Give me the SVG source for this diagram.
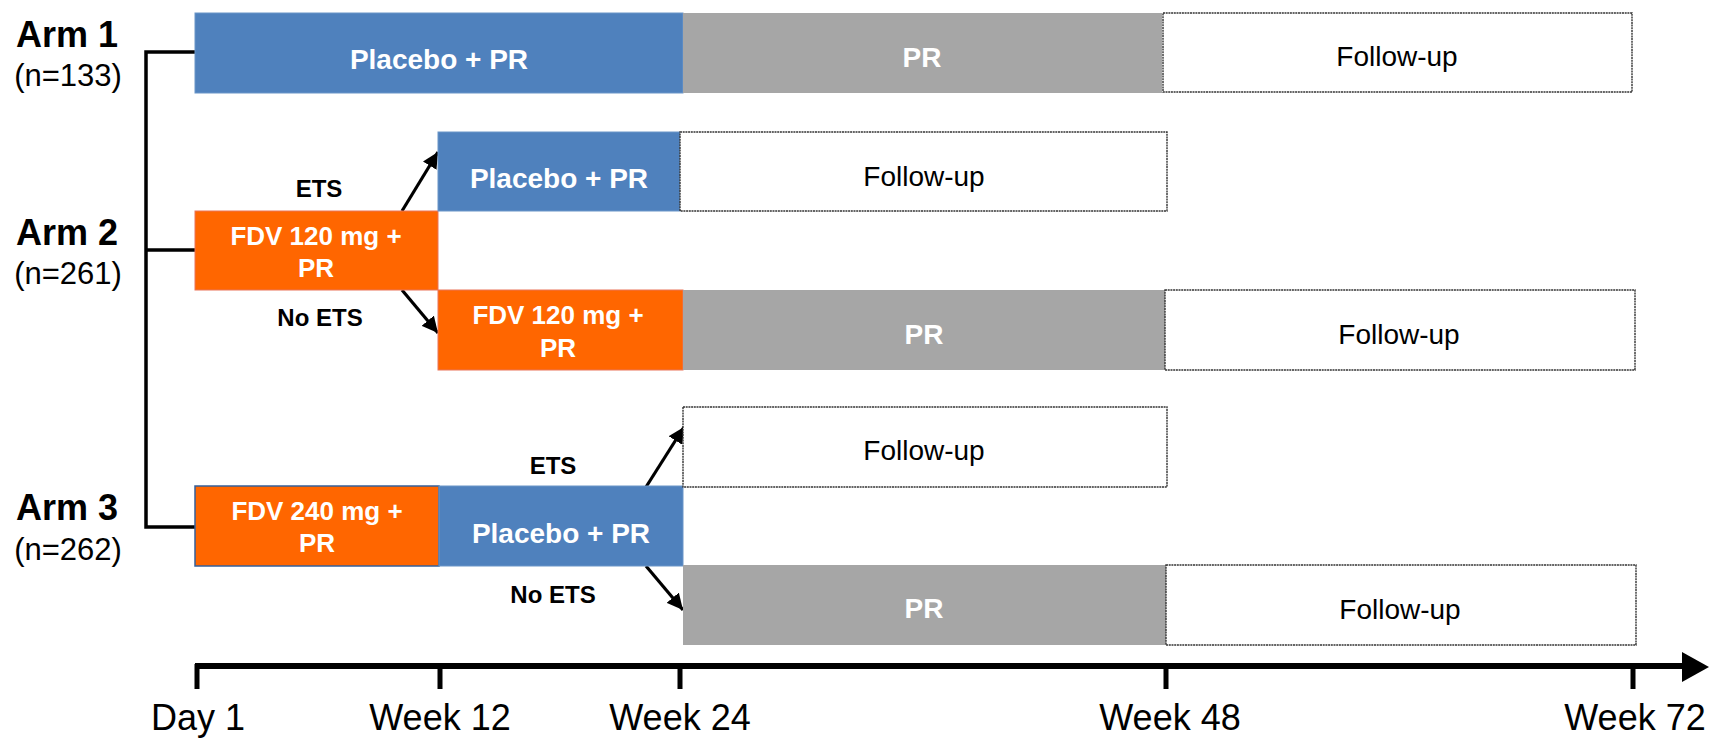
<svg xmlns="http://www.w3.org/2000/svg" width="1710" height="738" viewBox="0 0 1710 738">
<defs>
<style>
.blue{fill:#4F81BD;stroke:#6A95C8;stroke-width:1}
.orange{fill:#FF6600;stroke:#E9745A;stroke-width:1}
.gray{fill:#A6A6A6}
.fu{fill:#fff;stroke:#333;stroke-width:1.4;stroke-dasharray:2 0.7}
.wt{font-family:"Liberation Sans",Arial,sans-serif;font-weight:bold;fill:#fff;text-anchor:middle}
.bt{font-family:"Liberation Sans",Arial,sans-serif;fill:#000;text-anchor:middle}
.lbl{font-family:"Liberation Sans",Arial,sans-serif;font-weight:bold;fill:#000;text-anchor:middle;font-size:24px}
.ax{font-family:"Liberation Sans",Arial,sans-serif;fill:#000;text-anchor:middle;font-size:36px}
.ln{stroke:#000;fill:none}
</style>
<marker id="ah" markerUnits="userSpaceOnUse" markerWidth="18" markerHeight="16" refX="16" refY="8" orient="auto">
<path d="M0,0 L16,8 L0,16 Z" fill="#000"/>
</marker>
</defs>
<rect width="1710" height="738" fill="#fff"/>

<g id="arm-labels">
<text x="67" y="47" font-family="Liberation Sans,Arial,sans-serif" font-weight="bold" font-size="36" text-anchor="middle">Arm 1</text>
<text x="68" y="86" font-family="Liberation Sans,Arial,sans-serif" font-size="31" text-anchor="middle">(n=133)</text>
<text x="67" y="245" font-family="Liberation Sans,Arial,sans-serif" font-weight="bold" font-size="36" text-anchor="middle">Arm 2</text>
<text x="68" y="284" font-family="Liberation Sans,Arial,sans-serif" font-size="31" text-anchor="middle">(n=261)</text>
<text x="67" y="520" font-family="Liberation Sans,Arial,sans-serif" font-weight="bold" font-size="36" text-anchor="middle">Arm 3</text>
<text x="68" y="560" font-family="Liberation Sans,Arial,sans-serif" font-size="31" text-anchor="middle">(n=262)</text>
</g>

<g id="connectors">
<path class="ln" stroke-width="3.5" d="M195,52 H146 V527 H195 M146,250 H195"/>
<line class="ln" stroke-width="3.2" x1="402" y1="211" x2="438" y2="152" marker-end="url(#ah)"/>
<line class="ln" stroke-width="3.2" x1="402" y1="290" x2="438" y2="333" marker-end="url(#ah)"/>
<line class="ln" stroke-width="3.2" x1="646" y1="487" x2="684" y2="427" marker-end="url(#ah)"/>
<line class="ln" stroke-width="3.2" x1="646" y1="566" x2="683" y2="610" marker-end="url(#ah)"/>
</g>

<g id="branch-labels">
<text class="lbl" x="319" y="197">ETS</text>
<text class="lbl" x="320" y="326">No ETS</text>
<text class="lbl" x="553" y="474">ETS</text>
<text class="lbl" x="553" y="603">No ETS</text>
</g>

<g id="arm1-placebo"><rect class="blue" x="195" y="13" width="488" height="80"/><text class="wt" x="439" y="69" font-size="28">Placebo + PR</text></g>
<g id="arm1-pr"><rect class="gray" x="683" y="13" width="479" height="80"/><text class="wt" x="922" y="67" font-size="28">PR</text></g>
<g id="arm1-followup"><rect class="fu" x="1163" y="13" width="469" height="79"/><text class="bt" x="1397" y="66" font-size="28">Follow-up</text></g>

<g id="arm2-fdv120"><rect class="orange" x="195" y="211" width="243" height="79"/><text class="wt" x="316" y="245" font-size="26">FDV 120 mg +</text><text class="wt" x="316" y="277" font-size="26">PR</text></g>
<g id="arm2-ets-placebo"><rect class="blue" x="438" y="132" width="242" height="79"/><text class="wt" x="559" y="188" font-size="28">Placebo + PR</text></g>
<g id="arm2-ets-followup"><rect class="fu" x="680" y="132" width="487" height="79"/><text class="bt" x="924" y="186" font-size="28">Follow-up</text></g>
<g id="arm2-noets-fdv120"><rect class="orange" x="438" y="290" width="245" height="80"/><text class="wt" x="558" y="324" font-size="26">FDV 120 mg +</text><text class="wt" x="558" y="357" font-size="26">PR</text></g>
<g id="arm2-noets-pr"><rect class="gray" x="683" y="290" width="482" height="80"/><text class="wt" x="924" y="344" font-size="28">PR</text></g>
<g id="arm2-noets-followup"><rect class="fu" x="1165" y="290" width="470" height="80"/><text class="bt" x="1399" y="344" font-size="28">Follow-up</text></g>

<g id="arm3-fdv240"><rect x="195" y="486" width="244" height="80" fill="#FF6600" stroke="#35609A" stroke-width="1.5"/><text class="wt" x="317" y="520" font-size="26">FDV 240 mg +</text><text class="wt" x="317" y="552" font-size="26">PR</text></g>
<g id="arm3-placebo"><rect class="blue" x="439" y="486" width="244" height="80"/><text class="wt" x="561" y="543" font-size="28">Placebo + PR</text></g>
<g id="arm3-ets-followup"><rect class="fu" x="683" y="407" width="484" height="80"/><text class="bt" x="924" y="460" font-size="28">Follow-up</text></g>
<g id="arm3-noets-pr"><rect class="gray" x="683" y="565" width="483" height="80"/><text class="wt" x="924" y="618" font-size="28">PR</text></g>
<g id="arm3-noets-followup"><rect class="fu" x="1166" y="565" width="470" height="80"/><text class="bt" x="1400" y="619" font-size="28">Follow-up</text></g>

<g id="axis">
<line class="ln" stroke-width="6" x1="195" y1="666" x2="1686" y2="666"/>
<path d="M1682,652 L1709,667 L1682,682 Z" fill="#000"/>
<path class="ln" stroke-width="5" d="M197,664 V689 M440,664 V689 M680,664 V689 M1166,664 V689 M1633,664 V689"/>
<text class="ax" x="198" y="730">Day 1</text>
<text class="ax" x="440" y="730">Week 12</text>
<text class="ax" x="680" y="730">Week 24</text>
<text class="ax" x="1170" y="730">Week 48</text>
<text class="ax" x="1635" y="730">Week 72</text>
</g>
</svg>
